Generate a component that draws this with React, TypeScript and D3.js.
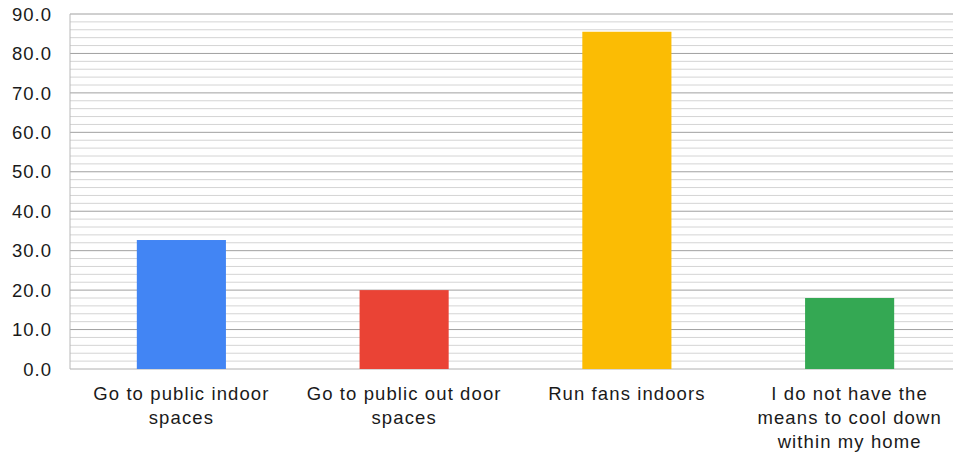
import React from "react";
import * as d3 from "d3";

const categories = [
  "Go to public indoor spaces",
  "Go to public out door spaces",
  "Run fans indoors",
  "I do not have the means to cool down within my home",
];
const labelLines = [
  ["Go to public indoor", "spaces"],
  ["Go to public out door", "spaces"],
  ["Run fans indoors"],
  ["I do not have the", "means to cool down", "within my home"],
];
const values = [32.7, 20.0, 85.5, 18.0];
const colors = ["#4285f4", "#ea4335", "#fbbc04", "#34a853"];
const yMax = 90;
const majorTicks = [0, 10, 20, 30, 40, 50, 60, 70, 80, 90];
const minorTicks = d3.range(0, 91, 2).filter((v) => v % 10 !== 0);

const W = 953;
const H = 455;
const M = { left: 70, top: 14, bottom: 86 };
const plotRight = 961;

export default function App() {
  const band = d3.scaleBand<string>().domain(categories).range([M.left, plotRight]);
  const barW = band.bandwidth() * 0.4;
  const y = d3.scaleLinear().domain([0, yMax]).range([H - M.bottom, M.top]);
  const font = "'Liberation Sans', Arial, sans-serif";
  const cx = (c: string) => (band(c) as number) + band.bandwidth() / 2;
  return (
    <svg width={W} height={H} style={{ position: "absolute", left: 0, top: 0 }}>
      <rect x={0} y={0} width={W} height={H} fill="#fff" />
      {minorTicks.map((t) => (
        <line key={"m" + t} x1={M.left} x2={W} y1={y(t)} y2={y(t)} stroke="#d4d4d4" strokeWidth={1} />
      ))}
      {majorTicks.map((t) => (
        <line key={"M" + t} x1={M.left} x2={W} y1={y(t)} y2={y(t)} stroke={t === 0 ? "#b0b0b0" : "#a0a0a0"} strokeWidth={1} />
      ))}
      <line x1={M.left} x2={M.left} y1={y(yMax)} y2={y(0)} stroke="#b8b8b8" strokeWidth={1} />
      {categories.map((c, i) => (
        <rect
          key={c}
          x={cx(c) - barW / 2}
          width={barW}
          y={y(values[i])}
          height={y(0) - y(values[i])}
          fill={colors[i]}
        />
      ))}
      {majorTicks.map((t) => (
        <text
          key={"t" + t}
          x={52}
          y={y(t)}
          dy="0.36em"
          textAnchor="end"
          fontFamily={font}
          fontSize={18.5}
          letterSpacing={1}
          fill="#1a1a1a"
        >
          {t.toFixed(1)}
        </text>
      ))}
      {categories.map((c, i) => (
        <text
          key={"c" + c}
          x={cx(c)}
          y={400}
          textAnchor="middle"
          fontFamily={font}
          fontSize={18.5}
          letterSpacing={1.1}
          fill="#1a1a1a"
        >
          {labelLines[i].map((l, j) => (
            <tspan key={j} x={cx(c)} dy={j === 0 ? 0 : 24}>
              {l}
            </tspan>
          ))}
        </text>
      ))}
    </svg>
  );
}
